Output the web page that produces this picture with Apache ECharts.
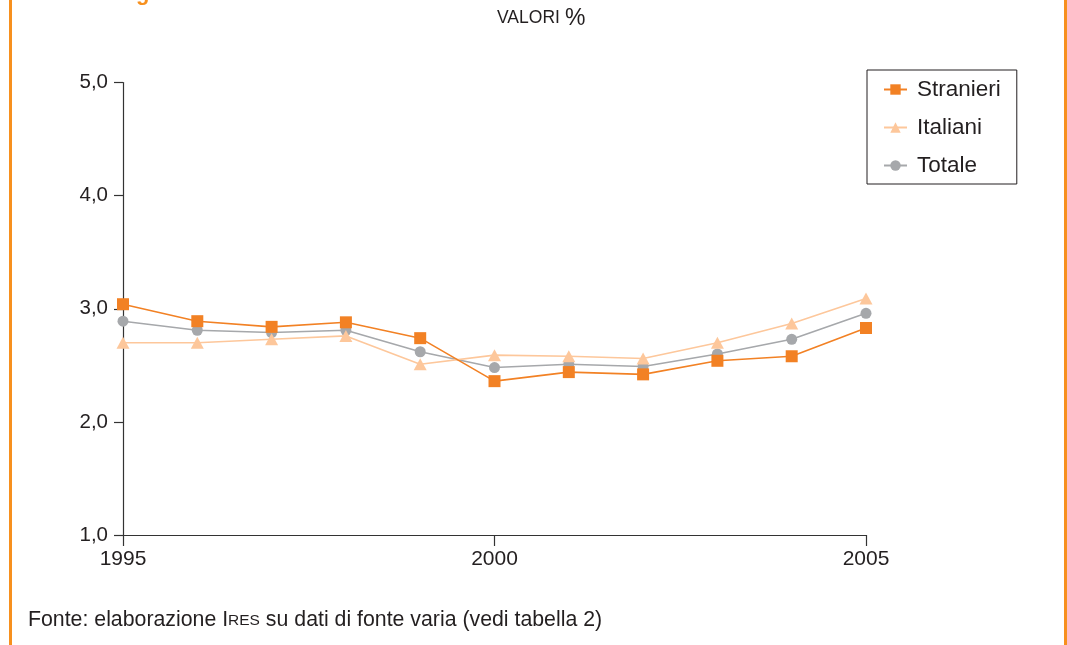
<!DOCTYPE html>
<html>
<head>
<meta charset="utf-8">
<script src="https://cdn.jsdelivr.net/npm/echarts@6/dist/echarts.min.js"></script>
<style>
  html, body { margin: 0; padding: 0; background: #fff; }
  #chart { width: 1067px; height: 645px; }
</style>
</head>
<body>
<div id="chart"></div>
<script>
// Anni e tassi (valori %)
const years = [1995, 1996, 1997, 1998, 1999, 2000, 2001, 2002, 2003, 2004, 2005];
const stranieri = [3.04, 2.89, 2.84, 2.88, 2.74, 2.36, 2.44, 2.42, 2.54, 2.58, 2.83];
const italiani  = [2.70, 2.70, 2.73, 2.76, 2.51, 2.59, 2.58, 2.56, 2.70, 2.87, 3.09];
const totale    = [2.89, 2.81, 2.79, 2.81, 2.62, 2.48, 2.51, 2.49, 2.60, 2.73, 2.96];
const seriesNames = ['Stranieri', 'Italiani', 'Totale'];
const yTicks = [1, 2, 3, 4, 5];

const FONT = '"Liberation Sans", Arial, sans-serif';
const INK = '#231f20';
const ORANGE = '#f7901e';

const pairs = vals => years.map((y, i) => [y, vals[i]]);

const chart = echarts.init(document.getElementById('chart'), null, { renderer: 'canvas' });

chart.setOption({
  animation: false,
  backgroundColor: '#fff',
  textStyle: { fontFamily: FONT, color: INK },
  title: {
    text: '{s|VALORI} {p|%}',
    left: 492,
    top: 2,
    textStyle: {
      fontWeight: 'normal',
      rich: {
        s: { fontFamily: FONT, fontSize: 17.5, fontWeight: 'normal', color: INK },
        p: { fontFamily: FONT, fontSize: 23, fontWeight: 'normal', color: INK }
      }
    }
  },
  grid: { left: 123, right: 201, top: 82.5, bottom: 110, containLabel: false },
  legend: {
    data: seriesNames,
    orient: 'vertical',
    left: 867,
    top: 70,
    padding: [8, 16, 7, 16],
    borderColor: '#231f20',
    borderWidth: 1,
    itemWidth: 23,
    itemHeight: 13,
    itemGap: 15,
    textStyle: { fontFamily: FONT, fontSize: 22.5, color: INK, padding: [0, 0, 0, 5], lineHeight: 20 }
  },
  xAxis: {
    type: 'value',
    min: 1995,
    max: 2005,
    interval: 5,
    splitLine: { show: false },
    axisLine: { lineStyle: { color: '#333', width: 1.2 } },
    axisTick: { length: 11, lineStyle: { color: '#333', width: 1.2 } },
    axisLabel: { fontFamily: FONT, fontSize: 21, color: INK, margin: 14, formatter: v => String(v) }
  },
  yAxis: {
    type: 'value',
    min: yTicks[0],
    max: yTicks[yTicks.length - 1],
    interval: 1,
    splitLine: { show: false },
    axisLine: { show: true, lineStyle: { color: '#333', width: 1.2 } },
    axisTick: { show: true, length: 9, lineStyle: { color: '#333', width: 1.2 } },
    axisLabel: { fontFamily: FONT, fontSize: 20.5, color: INK, margin: 15,
                 formatter: v => v.toFixed(1).replace('.', ',') }
  },
  series: [
    {
      name: 'Totale', type: 'line', data: pairs(totale), z: 2,
      symbol: 'circle', symbolSize: 11,
      lineStyle: { color: '#a6a8ab', width: 1.6 },
      itemStyle: { color: '#a6a8ab' }
    },
    {
      name: 'Italiani', type: 'line', data: pairs(italiani), z: 3,
      symbol: 'triangle', symbolSize: [13, 12],
      lineStyle: { color: '#fdc79b', width: 1.6 },
      itemStyle: { color: '#fdc79b' }
    },
    {
      name: 'Stranieri', type: 'line', data: pairs(stranieri), z: 4,
      symbol: 'rect', symbolSize: 12,
      lineStyle: { color: '#f28124', width: 1.6 },
      itemStyle: { color: '#f28124' }
    }
  ],
  graphic: [
    { type: 'rect', shape: { x: 9, y: 0, width: 3, height: 645 }, style: { fill: ORANGE }, silent: true },
    { type: 'rect', shape: { x: 1064, y: 0, width: 3, height: 645 }, style: { fill: ORANGE }, silent: true },
    { type: 'text', left: 136, top: -17,
      style: { text: 'g', fill: ORANGE, font: 'bold 22px ' + FONT }, silent: true },
    {
      type: 'text', left: 28, top: 610,
      style: {
        text: '{n|Fonte: elaborazione I}{sc|RES}{n| su dati di fonte varia (vedi tabella 2)}',
        rich: {
          n: { fontFamily: FONT, fontSize: 21.3, fill: INK },
          sc: { fontFamily: FONT, fontSize: 15.5, fill: INK }
        }
      },
      silent: true
    }
  ]
});
</script>
</body>
</html>
